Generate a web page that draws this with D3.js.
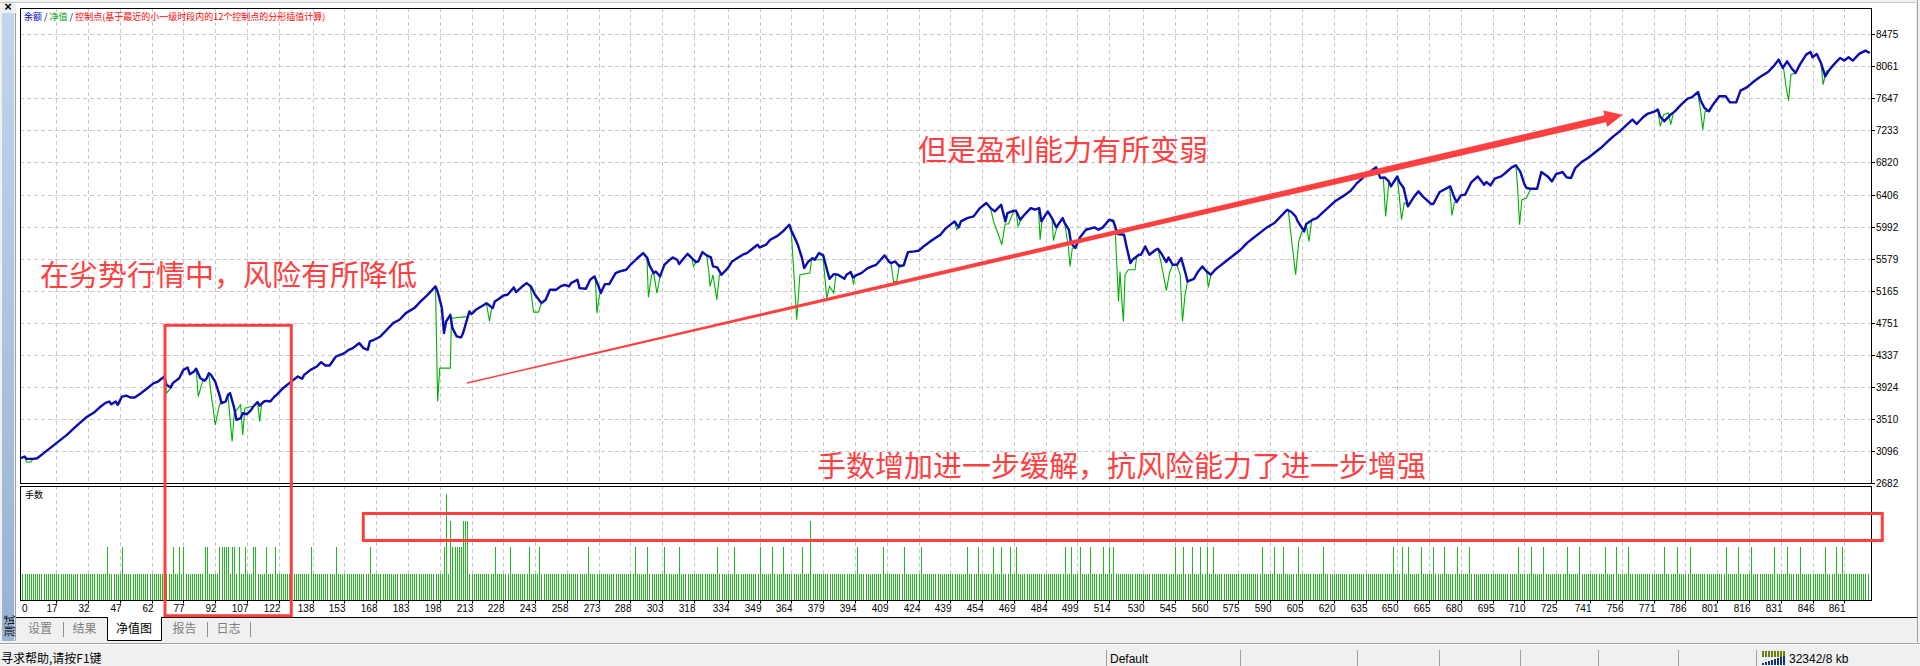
<!DOCTYPE html>
<html><head><meta charset="utf-8">
<script src="https://cdn.jsdelivr.net/npm/d3@7"></script>
<style>
html,body{margin:0;padding:0;background:#f0f0f0;overflow:hidden;}
svg{display:block;}
text{font-family:"Liberation Sans",Arial,sans-serif;}
.cjk{font-family:"Noto Sans CJK SC","Noto Sans",sans-serif;}
</style></head><body>
<svg id="c" width="1920" height="666"></svg>
<script>
// ---------------- DATA ----------------
const xTickLabels = [0,17,32,47,62,77,92,107,122,138,153,168,183,198,213,228,243,258,273,288,303,318,334,349,364,379,394,409,424,439,454,469,484,499,514,530,545,560,575,590,605,620,635,650,665,680,695,710,725,741,756,771,786,801,816,831,846,861];
const yTickValues = [2682,3096,3510,3924,4337,4751,5165,5579,5992,6406,6820,7233,7647,8061,8475];

// balance (余额) : [trade, value]
const balance = [[0,3002],[2,3023],[3,2993],[6,2993],[8,3002],[10,3045],[13,3110],[16,3174],[19,3239],[22,3303],[25,3381],[28,3454],[31,3527],[35,3596],[38,3670],[40,3712],[42,3734],[43,3699],[45,3734],[46,3691],[48,3798],[50,3811],[52,3786],[54,3786],[57,3842],[60,3906],[63,3971],[65,3992],[68,4057],[69,3949],[71,3915],[72,3971],[75,4035],[77,4143],[79,4173],[80,4087],[82,4121],[83,4156],[85,4035],[87,4001],[88,4035],[89,4100],[90,4078],[92,3992],[94,3820],[95,3712],[97,3734],[98,3820],[99,3842],[101,3648],[102,3497],[104,3519],[105,3583],[107,3570],[109,3626],[110,3670],[112,3726],[113,3682],[115,3734],[116,3743],[118,3734],[120,3798],[121,3820],[124,3906],[127,3971],[131,4057],[133,4027],[134,4078],[137,4143],[140,4186],[142,4242],[144,4199],[146,4199],[149,4315],[151,4337],[153,4358],[155,4401],[157,4423],[159,4466],[160,4488],[162,4423],[164,4401],[165,4509],[167,4531],[170,4574],[173,4660],[176,4746],[179,4789],[182,4875],[186,4940],[189,5026],[192,5103],[196,5220],[197,5155],[199,4940],[200,4617],[201,4767],[203,4853],[204,4681],[206,4574],[208,4561],[209,4617],[212,4897],[213,4862],[215,4918],[219,4983],[220,5004],
[221,4983],[223,4940],[224,5026],[226,5060],[228,5103],[230,5112],[233,5207],[234,5146],[237,5220],[239,5263],[241,5220],[243,5112],[246,5004],[248,5047],[250,5177],[253,5177],[255,5220],[257,5241],[259,5220],[260,5263],[263,5306],[264,5198],[267,5189],[269,5306],[271,5349],[273,5220],[274,5134],[276,5250],[278,5250],[281,5392],[283,5413],[286,5435],[288,5499],[291,5577],[294,5650],[296,5585],[297,5491],[299,5392],[300,5413],[302,5349],[304,5499],[306,5551],[308,5594],[310,5564],[311,5508],[313,5577],[315,5641],[317,5585],[319,5534],[320,5542],[322,5663],[324,5620],[326,5594],[327,5478],[329,5465],[331,5370],[334,5456],[336,5542],[338,5577],[341,5629],[343,5650],[345,5693],[348,5758],[349,5723],[352,5758],[354,5822],[357,5865],[360,5930],[363,6016],[364,5939],[366,5822],[367,5758],[369,5585],[370,5456],[372,5542],[374,5585],[375,5564],[377,5650],[379,5620],[381,5413],[382,5318],[384,5379],[386,5370],[389,5318],[390,5370],[392,5405],[393,5336],[395,5370],[397,5392],[400,5456],[402,5478],[404,5499],[408,5620],[410,5542],[411,5521],[413,5542],[415,5478],[417,5491],[419,5663],[422,5672],[424,5680],[427,5749],[430,5809],[433,5865],
[434,5878],[437,5973],[441,6059],[443,5982],[444,6059],[447,6102],[450,6124],[453,6231],[456,6296],[458,6231],[460,6188],[463,6274],[465,6059],[466,6167],[469,6197],[470,6197],[472,6081],[474,6145],[477,6231],[479,6210],[481,6231],[482,6059],[485,6188],[487,6102],[489,5982],[492,6102],[493,6038],[495,5951],[496,5779],[498,5715],[500,5844],[503,5951],[507,5982],[509,5951],[511,5982],[514,6081],[516,6059],[518,5896],[521,5887],[522,5758],[524,5521],[525,5564],[528,5628],[529,5628],[531,5736],[533,5628],[536,5693],[537,5706],[539,5628],[541,5534],[542,5594],[544,5499],[546,5499],[548,5585],[550,5392],[551,5284],[554,5318],[556,5413],[558,5478],[560,5413],[562,5370],[564,5435],[566,5478],[570,5564],[573,5628],[576,5693],[579,5779],[582,5844],[585,5908],[588,5973],[592,6038],[595,6124],[598,6210],[600,6180],[602,6124],[603,6059],[606,5930],[607,6025],[610,6081],[612,6102],[615,6180],[618,6253],[621,6326],[625,6395],[628,6455],[631,6554],[634,6628],[637,6697],[640,6757],[642,6619],[644,6628],[646,6576],[647,6511],[649,6597],[650,6640],
[651,6567],[653,6490],[655,6253],[658,6382],[660,6447],[662,6382],[666,6283],[667,6283],[670,6438],[672,6468],[675,6511],[677,6360],[678,6309],[680,6395],[682,6404],[685,6567],[688,6640],[691,6533],[692,6567],[694,6524],[696,6610],[699,6640],[701,6684],[704,6757],[706,6783],[708,6705],[710,6541],[711,6490],[713,6481],[716,6481],[718,6696],[721,6640],[723,6576],[725,6671],[728,6696],[730,6627],[732,6619],[734,6748],[737,6826],[740,6877],[743,6942],[746,7006],[749,7084],[752,7157],[755,7222],[758,7299],[761,7373],[763,7316],[766,7403],[768,7446],[771,7472],[773,7502],[774,7416],[776,7351],[779,7437],[781,7480],[784,7566],[787,7644],[789,7661],[792,7730],[793,7631],[795,7523],[797,7480],[799,7566],[802,7674],[805,7674],[807,7596],[810,7596],[812,7747],[815,7790],[818,7859],[821,7919],[825,7988],[828,8074],[830,8148],[832,8040],[834,8126],[836,8040],[838,7975],[840,8083],[843,8212],[845,8247],[846,8178],[848,8221],[850,8105],[852,7932],[854,8018],[856,8083],[859,8169],[861,8135],[863,8178],[865,8135],[868,8221],[871,8264],[873,8234]];

// equity (净值) : stretches where it leaves the balance line, [trade, value]
const equityDips = [
 [[2,3023],[3,2950],[5,2955],[6,2993]],
 [[68,4057],[69,3842],[71,3906],[72,3971]],
 [[83,4156],[84,3798],[86,3992],[87,4020]],
 [[89,4100],[90,3842],[91,3648],[92,3432],[94,3691],[95,3734]],
 [[98,3820],[100,3217],[101,3583],[104,3691],[105,3303],[106,3648],[109,3670]],
 [[112,3726],[113,3475],[114,3720]],
 [[196,5220],[197,3734],[198,4165],[203,4165],[203.5,4810],[211,4830],[212,4897]],
 [[220,5004],[221.5,4767],[222.5,4950]],
 [[240.7,5220],[242.3,4888],[244.6,4888],[246,5004]],
 [[271.4,5349],[272.2,4875],[273.4,5112],[274,5134]],
 [[295.8,5585],[296.5,5077],[298,5370],[299,5392],[300.5,5134],[302,5349]],
 [[317,5585],[317.8,5478],[319,5534]],
 [[324,5620],[325,5413],[325.6,5220],[327,5370],[328.8,5047],[330,5370],[331,5370]],
 [[363,6016],[364,5900],[366.5,4789],[368,5370],[372.7,5392],[373.5,5564],[379,5564],[380.7,5069],[382,5220],[384,5134],[385,5370],[386,5370]],
 [[392.5,5370],[393.3,5241],[394,5370]],
 [[411,5521],[412.2,5284],[413.7,5284],[415,5500]],
 [[441,6059],[442,5952],[443,5982]],
 [[458,6231],[459.4,6059],[461.7,5887],[463.3,5758],[464.9,6025],[466.5,6025]],
 [[470,6197],[471,5995],[472,6060]],
 [[480.6,6231],[481.4,5822],[482.2,6059]],
 [[487,6102],[487.7,5810],[489.3,5982]],
 [[493,6038],[494.8,5715],[495.5,5478],[496.6,5715],[498,5715]],
 [[514,6081],[516,6081],[516.8,5973],[518.4,5026],[519.1,5413],[519.9,5069],[520.7,4767],[521.5,5370],[523,5435],[526.2,5435],[527,5607],[529,5628]],
 [[537,5706],[538.5,5525],[541,5165],[542.5,5400],[544,5499]],
 [[546,5499],[547.5,5370],[548.6,4767],[549.8,5112],[551,5284]],
 [[560,5413],[560.8,5207],[562,5370]],
 [[598.5,6210],[600,5844],[602,5370],[603.5,5800],[605,5930]],
 [[607,6025],[608.3,5800],[609.6,6081]],
 [[643.4,6619],[644.5,6124],[645.8,6511]],
 [[650,6640],[652,6081],[653.3,6300],[654.5,6275]],
 [[674.7,6511],[675.8,6137],[676.9,6300],[677.8,6309]],
 [[706,6783],[706.8,6490],[707.7,6016],[708.8,6340],[710.9,6360],[713,6481]],
 [[773,7502],[774.1,7287],[775.7,7437],[778,7459],[779.1,7308],[780.4,7472]],
 [[791.7,7730],[793,7523],[794.2,7243],[795.3,7480],[797.4,7480]],
 [[832.3,8040],[833.6,7780],[834.7,7618],[835.8,7953],[838,7975]],
 [[850,8105],[851,7825],[852.5,8000]]
];

// lots (手数): every trade is 1 lot except these
const tradeCount = 872;
const lots2 = [41,48,72,75,77,87,88,94,95,96,97,98,100,101,103,106,110,111,116,120,137,149,165,200,204,205,206,207,208,224,231,240,245,268,290,296,304,311,329,337,349,355,360,369,395,407,417,425,447,452,459,463,467,470,493,496,500,505,511,514,516,545,549,553,557,560,563,586,592,596,603,615,648,652,655,661,667,672,678,684,707,713,719,730,736,748,753,759,776,782,788,805,811,817,828,834,840,852,857,860];
const lots3 = [203,209,210,211,373];
const lots4 = [201];

// ---------------- DRAW ----------------
const svg = d3.select("#c");
const W = 1920, H = 666;
const L = 20, R = 1871, T = 8, B = 483, LT = 486, LB = 600.5;
const BLUE = "#0c0cb0", GREEN = "#00b000", LOTG = "#22b822", RED = "#ff4040";

const x = d3.scaleLinear().domain([0, 861]).range([20.3, 1844.3]);
const y = d3.scaleLinear().domain([2682, 8814]).range([B, T]);
const yl = d3.scaleLinear().domain([0, 4.3]).range([LB, LT]);

svg.append("rect").attr("width", W).attr("height", H).attr("fill", "#f0f0f0");
svg.append("rect").attr("x", 16).attr("y", 3).attr("width", 1900).attr("height", 614).attr("fill", "#fff");
svg.append("line").attr("x1",1917.5).attr("x2",1917.5).attr("y1",0).attr("y2",642).attr("stroke","#a0a0a0");
svg.append("line").attr("x1",0).attr("x2",1918).attr("y1",2.5).attr("y2",2.5).attr("stroke","#c8c8c8");

// left strip
const defs = svg.append("defs");
const grad = defs.append("linearGradient").attr("id","strip").attr("x1",0).attr("x2",0).attr("y1",0).attr("y2",1);
grad.append("stop").attr("offset","0%").attr("stop-color","#c0d6ee");
grad.append("stop").attr("offset","100%").attr("stop-color","#98b2d2");
svg.append("rect").attr("x",2).attr("y",13).attr("width",12).attr("height",628).attr("fill","url(#strip)");
svg.append("line").attr("x1",15.5).attr("x2",15.5).attr("y1",13).attr("y2",641).attr("stroke","#a0a0a0");
svg.append("text").attr("x",8).attr("y",11).attr("text-anchor","middle").attr("font-size",13).attr("font-weight","bold").text("×");
svg.append("text").attr("class","cjk").attr("transform","translate(13.5,626) rotate(-90)").attr("text-anchor","middle").attr("font-size",11).attr("fill","#000").text("测试");

// grids
const gridG = svg.append("g").attr("stroke","#c8c8c8").attr("stroke-dasharray","4,3").attr("stroke-width",1);
xTickLabels.slice(1).forEach(v => {
  const gx = Math.round(x(v)) + 0.5;
  gridG.append("line").attr("x1",gx).attr("x2",gx).attr("y1",T).attr("y2",B);
  gridG.append("line").attr("x1",gx).attr("x2",gx).attr("y1",LT).attr("y2",LB);
});
yTickValues.slice(1).forEach(v => {
  const gy = Math.round(y(v)) + 0.5;
  gridG.append("line").attr("x1",L).attr("x2",R).attr("y1",gy).attr("y2",gy);
});

defs.append("clipPath").attr("id","mainClip").append("rect").attr("x",L+1).attr("y",T+1).attr("width",R-L-1).attr("height",B-T-1);

// equity line = balance outside dip stretches + dip stretches
const inDip = t => equityDips.some(s => t >= s[0][0] && t <= s[s.length-1][0]);
const equity = balance.filter(p => !inDip(p[0])).concat(...equityDips).sort((a,b) => a[0]-b[0]);

const line = d3.line().x(d => x(d[0])).y(d => y(d[1]));
const plot = svg.append("g").attr("clip-path","url(#mainClip)");
plot.append("path").datum(equity).attr("d", line).attr("fill","none").attr("stroke",GREEN).attr("stroke-width",1.1);
plot.append("path").datum(balance).attr("d", line).attr("fill","none").attr("stroke",BLUE).attr("stroke-width",2.4).attr("stroke-linejoin","round");

// lots bars
const trades = d3.range(1, tradeCount + 1);
const lotOf = t => lots4.includes(t) ? 4 : lots3.includes(t) ? 3 : lots2.includes(t) ? 2 : 1;
svg.append("g").selectAll("line").data(trades).join("line")
  .attr("x1", t => Math.round(x(t)) + 0.5).attr("x2", t => Math.round(x(t)) + 0.5)
  .attr("y1", LB).attr("y2", t => Math.round(yl(lotOf(t))))
  .attr("stroke", LOTG).attr("stroke-width", 1);

// frames
svg.append("rect").attr("x",L+0.5).attr("y",T+0.5).attr("width",R-L).attr("height",B-T).attr("fill","none").attr("stroke","#000");
svg.append("rect").attr("x",L+0.5).attr("y",LT+0.5).attr("width",R-L).attr("height",LB-LT-0.5).attr("fill","none").attr("stroke","#000");

// right axis
const ya = svg.append("g").attr("font-size",10).attr("fill","#000");
yTickValues.forEach(v => {
  const gy = Math.round(y(v)) + 0.5;
  svg.append("line").attr("x1",R+0.5).attr("x2",R+4).attr("y1",gy).attr("y2",gy).attr("stroke","#000");
  ya.append("text").attr("x",R+5).attr("y",gy+3.5).text(v);
});

// bottom axis
const xa = svg.append("g").attr("font-size",10).attr("fill","#000");
xTickLabels.forEach((v,i) => {
  const gx = Math.round(x(v)) + 0.5;
  if (i === 0) { xa.append("text").attr("x",22).attr("y",611.5).text(v); return; }
  svg.append("line").attr("x1",gx).attr("x2",gx).attr("y1",LB).attr("y2",LB+3).attr("stroke","#000");
  xa.append("text").attr("x",gx+1).attr("y",611.5).attr("text-anchor","end").text(v);
});

// legend
const lg = svg.append("text").attr("class","cjk").attr("x",24).attr("y",20).attr("font-size",9);
lg.append("tspan").attr("fill","#0000c8").text("余额");
lg.append("tspan").attr("fill","#000").text(" / ");
lg.append("tspan").attr("fill","#00a000").text("净值");
lg.append("tspan").attr("fill","#000").text(" / ");
lg.append("tspan").attr("fill","#ff0000").text("控制点(基于最近的小一级时段内的12个控制点的分形插值计算)");
svg.append("text").attr("class","cjk").attr("x",25).attr("y",498).attr("font-size",9).attr("fill","#000").text("手数");

// tab strip
svg.append("line").attr("x1",16).attr("x2",1917).attr("y1",617.5).attr("y2",617.5).attr("stroke","#000");
svg.append("path").attr("d","M107.5,617.5 V640.5 H161.5 V617.5").attr("fill","#fff").attr("stroke","#000");
svg.append("line").attr("x1",108).attr("x2",161).attr("y1",617.5).attr("y2",617.5).attr("stroke","#fff");
[63,207,250].forEach(sx => svg.append("line").attr("x1",sx+0.5).attr("x2",sx+0.5).attr("y1",622).attr("y2",637).attr("stroke","#909090"));
const tabs = [["设置",40,"#808080"],["结果",84.5,"#808080"],["净值图",134,"#000"],["报告",184.5,"#808080"],["日志",228.5,"#808080"]];
tabs.forEach(t => svg.append("text").attr("class","cjk").attr("x",t[1]).attr("y",632.5).attr("text-anchor","middle").attr("font-size",12).attr("fill",t[2]).text(t[0]));

// status bar
svg.append("line").attr("x1",0).attr("x2",1920).attr("y1",643.5).attr("y2",643.5).attr("stroke","#a0a0a0");
svg.append("line").attr("x1",0).attr("x2",1920).attr("y1",644.5).attr("y2",644.5).attr("stroke","#fff");
svg.append("text").attr("class","cjk").attr("x",1).attr("y",663).attr("font-size",12).attr("fill","#000").text("寻求帮助,请按F1键");
[1106,1240,1357,1439,1520,1598,1678,1756].forEach(sx => svg.append("line").attr("x1",sx+0.5).attr("x2",sx+0.5).attr("y1",650).attr("y2",666).attr("stroke","#a0a0a0"));
svg.append("text").attr("x",1110).attr("y",663).attr("font-size",12).attr("fill","#000").text("Default");
svg.append("text").attr("x",1789).attr("y",663).attr("font-size",12).attr("fill","#000").text("32342/8 kb");
for (let i = 0; i < 8; i++) {
  svg.append("rect").attr("x",1762 + i*3).attr("y",651).attr("width",2).attr("height",6).attr("fill","#6b7d10");
  svg.append("rect").attr("x",1762 + i*3).attr("y",665 - (i+2)).attr("width",2).attr("height",i+2).attr("fill","#10386b");
}

// ---------------- ANNOTATIONS ----------------
const ann = svg.append("g");
ann.append("text").attr("class","cjk").attr("x",40).attr("y",286).attr("font-size",29).attr("fill",RED).text("在劣势行情中，风险有所降低");
ann.append("text").attr("class","cjk").attr("x",918).attr("y",161).attr("font-size",29).attr("fill",RED).text("但是盈利能力有所变弱");
ann.append("text").attr("class","cjk").attr("x",817).attr("y",477).attr("font-size",29).attr("fill",RED).text("手数增加进一步缓解，抗风险能力了进一步增强");
ann.append("rect").attr("x",165).attr("y",325.3).attr("width",126.3).attr("height",290.4).attr("fill","none").attr("stroke",RED).attr("stroke-width",3);
ann.append("rect").attr("x",363.3).attr("y",513.5).attr("width",1519).attr("height",27).attr("fill","none").attr("stroke",RED).attr("stroke-width",3);
// tapered arrow
(function(){
  const S = [467,383], E = [1622.7,114.7];
  const dx = E[0]-S[0], dy = E[1]-S[1], len = Math.hypot(dx,dy);
  const u = [dx/len, dy/len], n = [-u[1], u[0]];
  const HL = 18, HW = 8.5, w0 = 0.7, w1 = 3.6;
  const Bp = [E[0]-u[0]*HL, E[1]-u[1]*HL];
  const P = (p,k) => [p[0]+n[0]*k, p[1]+n[1]*k];
  const pts = [P(S,w0), P(Bp,w1), P(Bp,HW), E, P(Bp,-HW), P(Bp,-w1), P(S,-w0)];
  ann.append("path").attr("d","M"+pts.map(p=>p.join(",")).join("L")+"Z").attr("fill",RED);
})();
</script>
</body></html>
